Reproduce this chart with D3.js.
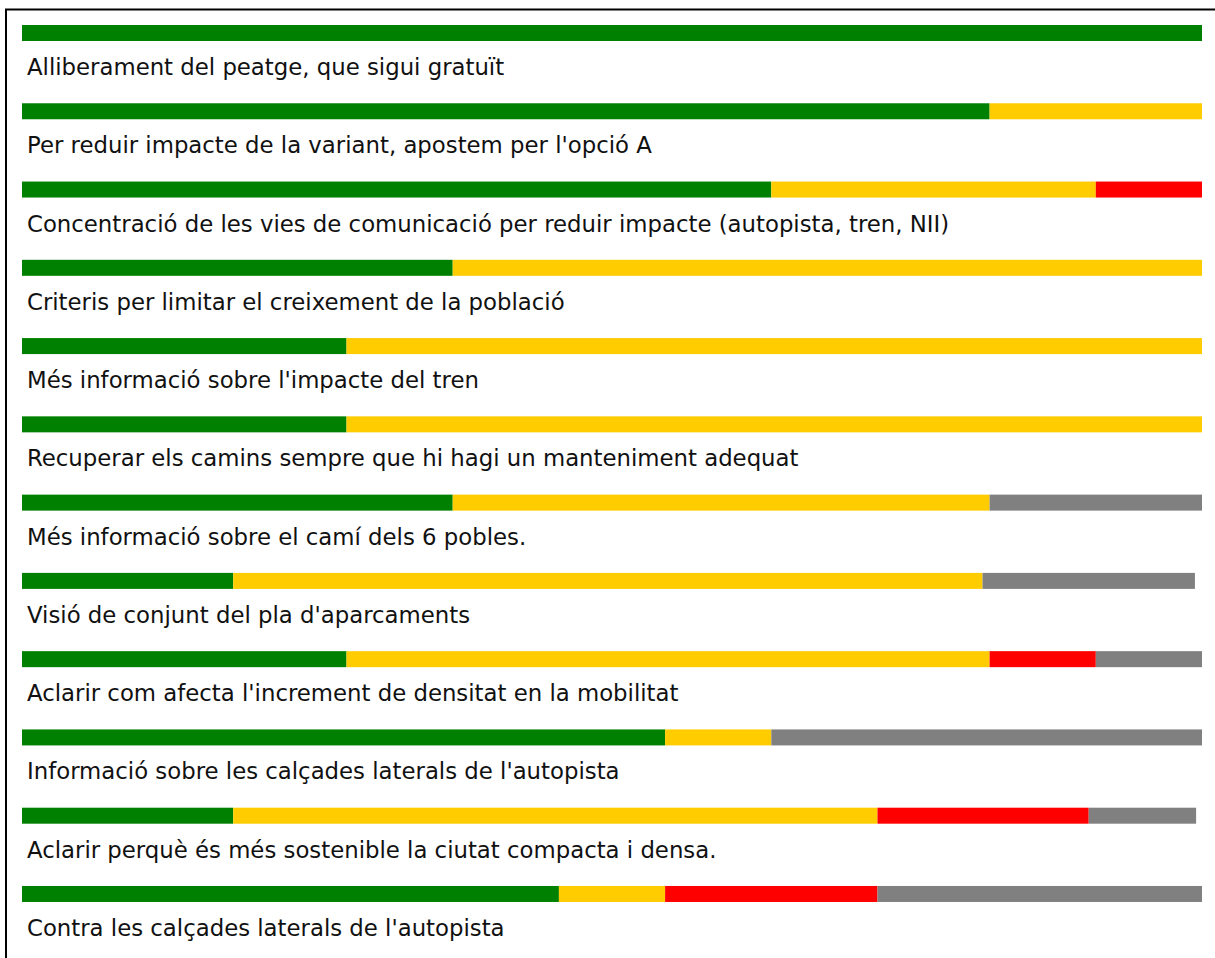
<!DOCTYPE html>
<html>
<head>
<meta charset="utf-8">
<script src="https://cdn.jsdelivr.net/npm/d3@7"></script>
<style>
  body { margin: 0; background: #fff; }
  text { font-family: "DejaVu Sans", Verdana, sans-serif; }
</style>
</head>
<body>
<div id="chart"></div>
<script>
// row labels, top to bottom
var labels = [
    "Alliberament del peatge, que sigui gratuït",
    "Per reduir impacte de la variant, apostem per l'opció A",
    "Concentració de les vies de comunicació per reduir impacte (autopista, tren, NII)",
    "Criteris per limitar el creixement de la població",
    "Més informació sobre l'impacte del tren",
    "Recuperar els camins sempre que hi hagi un manteniment adequat",
    "Més informació sobre el camí dels 6 pobles.",
    "Visió de conjunt del pla d'aparcaments",
    "Aclarir com afecta l'increment de densitat en la mobilitat",
    "Informació sobre les calçades laterals de l'autopista",
    "Aclarir perquè és més sostenible la ciutat compacta i densa.",
    "Contra les calçades laterals de l'autopista"
];

// share of each answer per row (percent of the full bar)
var green  = [100, 82.0, 63.5, 36.5, 27.5, 27.5, 36.5, 17.9, 27.5, 54.5, 17.9, 45.5];
var yellow = [0,   18.0, 27.5, 63.5, 72.5, 72.5, 45.5, 63.5, 54.5,  9.0, 54.6,  9.0];
var red    = [0,    0,    9.0,  0,    0,    0,    0,    0,    9.0,  0,   17.9, 18.0];
var grey   = [0,    0,    0,    0,    0,    0,   18.0, 18.0,  9.0, 36.5,  9.1, 27.5];

var keys = ["green", "yellow", "red", "grey"];
var colors = { green: "#008000", yellow: "#ffcc00", red: "#ff0000", grey: "#808080" };

var dataset = labels.map(function (l, i) {
    return { label: l, green: green[i], yellow: yellow[i], red: red[i], grey: grey[i] };
});

var w = 1215, h = 958;
var barH = 16;

var svg = d3.select("#chart").append("svg")
    .attr("width", w)
    .attr("height", h);

// frame: only top and left edges are inside the picture
svg.append("path")
    .attr("d", "M6,958V9.5H1215")
    .attr("fill", "none")
    .attr("stroke", "#000")
    .attr("stroke-width", 2);

var xScale = d3.scaleLinear().domain([0, 100]).range([22, 1202]);
var yScale = d3.scaleBand()
    .domain(labels)
    .range([25, 25 + 78.27 * labels.length])
    .padding(0);

var series = d3.stack().keys(keys)(dataset);

svg.selectAll("g.layer")
    .data(series)
    .enter().append("g")
    .attr("class", "layer")
    .attr("fill", function (d) { return colors[d.key]; })
    .selectAll("rect")
    .data(function (layer) { return layer.filter(function (d) { return d[1] > d[0]; }); })
    .enter().append("rect")
    .attr("x", function (d) { return xScale(d[0]); })
    .attr("y", function (d) { return yScale(d.data.label); })
    .attr("width", function (d) { return xScale(d[1]) - xScale(d[0]); })
    .attr("height", barH);

svg.selectAll("text.label")
    .data(labels)
    .enter().append("text")
    .attr("class", "label")
    .attr("x", 27)
    .attr("y", function (d) { return yScale(d) + 50; })
    .attr("font-size", 22.8)
    .attr("fill", "#111")
    .text(function (d) { return d; });
</script>
</body>
</html>
